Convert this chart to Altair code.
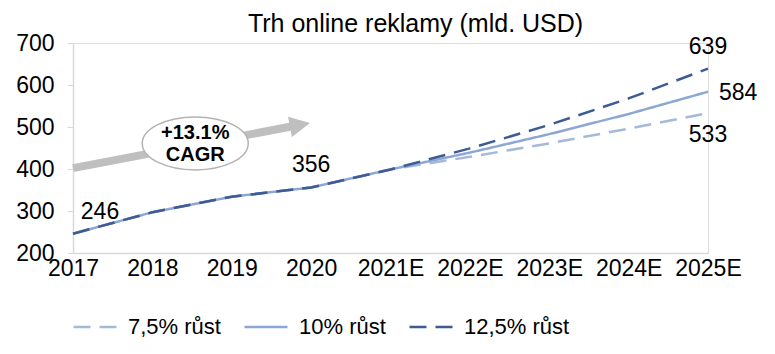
import altair as alt
import pandas as pd

# ---- data ----
years = [2017, 2018, 2019, 2020, 2021, 2022, 2023, 2024, 2025]
series_names = ["7,5% růst", "10% růst", "12,5% růst"]
growth_75 = [246, 297, 334, 356, 399, 429, 461, 496, 533]
growth_10 = [246, 297, 334, 356, 399, 439, 483, 531, 584]
growth_125 = [246, 297, 334, 356, 399, 449, 505, 568, 639]
series_colors = ["#a5b9da", "#8da7d3", "#3d5c93"]

label_years = [2017, 2020, 2025, 2025, 2025]
label_values = [246, 356, 639, 584, 533]
label_places = ["upright", "up", "up", "right", "down"]

cagr_lines = ["+13.1%", "CAGR"]
cagr_line_y = [486, 433]
cagr_center_x = 2018.54
cagr_center_y = 461
arrow_x = [2017, 2019.8]
arrow_y = [402, 503]
arrow_head = (2019.86, 505)

FONT = "Liberation Sans"

rows = []
for name, vals in zip(series_names, [growth_75, growth_10, growth_125]):
    for yr, v in zip(years, vals):
        rows.append({"year": yr, "value": v, "series": name})
lines_df = pd.DataFrame(rows)

labels_df = pd.DataFrame({"year": label_years, "value": label_values,
                          "place": label_places,
                          "text": [str(v) for v in label_values]})

x_scale = alt.Scale(domain=[2017, 2025], nice=False, zero=False)
y_scale = alt.Scale(domain=[200, 700], nice=False, zero=False)

x_axis = alt.Axis(values=years, format="d",
                  labelExpr="datum.value >= 2021 ? datum.label + 'E' : datum.label",
                  title=None, grid=False, ticks=False, domainColor="#d9d9d9",
                  domainWidth=1.5, labelFont=FONT, labelFontSize=23, labelColor="#000",
                  labelPadding=4, labelFlush=False, labelOverlap=False)
y_axis = alt.Axis(values=[200, 300, 400, 500, 600, 700], title=None, grid=False,
                  tickSize=6, tickColor="#d9d9d9", domainColor="#d9d9d9",
                  domainWidth=1.5, labelFont=FONT, labelFontSize=23, labelColor="#000",
                  labelPadding=13)

legend = alt.Legend(orient="none", legendX=-1, legendY=261, direction="horizontal",
                    title=None, symbolType="stroke", symbolSize=1849,
                    symbolStrokeWidth=3, labelFont=FONT, labelFontSize=22,
                    labelColor="#000", labelOffset=10, columnPadding=18, padding=0)

lines = alt.Chart(lines_df).mark_line().encode(
    x=alt.X("year:Q", scale=x_scale, axis=x_axis),
    y=alt.Y("value:Q", scale=y_scale, axis=y_axis),
    color=alt.Color("series:N", scale=alt.Scale(domain=series_names, range=series_colors),
                    legend=legend),
    strokeDash=alt.StrokeDash("series:N",
                              scale=alt.Scale(domain=series_names,
                                              range=[[17, 9], [1, 0], [17, 9]]),
                              legend=legend),
    strokeWidth=alt.StrokeWidth("series:N",
                                scale=alt.Scale(domain=series_names, range=[2.5, 2.5, 3]),
                                legend=None),
    order=alt.Order("year:Q"),
)

def label_layer(place, **kw):
    return alt.Chart(labels_df).transform_filter(
        alt.datum.place == place
    ).mark_text(font=FONT, fontSize=23, color="#000", baseline="middle", **kw).encode(
        x=alt.X("year:Q", scale=x_scale),
        y=alt.Y("value:Q", scale=y_scale),
        text="text:N",
    )

lbl_upright = label_layer("upright", dx=27, dy=-22)
lbl_up = label_layer("up", dy=-22)
lbl_right = label_layer("right", align="left", dx=11, dy=1)
lbl_down = label_layer("down", dy=22)

arrow_df = pd.DataFrame({"x": [arrow_x[0]], "y": [arrow_y[0]],
                         "x2": [arrow_x[1]], "y2": [arrow_y[1]]})
arrow = alt.Chart(arrow_df).mark_rule(color="#bfbfbf", strokeWidth=8).encode(
    x=alt.X("x:Q", scale=x_scale), y=alt.Y("y:Q", scale=y_scale),
    x2="x2:Q", y2="y2:Q")

head_df = pd.DataFrame({"x": [arrow_head[0]], "y": [arrow_head[1]]})
head = alt.Chart(head_df).mark_point(shape="M-1,-1L1,0L-1,1Z", filled=True,
                                     color="#bfbfbf", opacity=1, size=420,
                                     angle=349).encode(
    x=alt.X("x:Q", scale=x_scale), y=alt.Y("y:Q", scale=y_scale))

ell_df = pd.DataFrame({"x": [cagr_center_x], "y": [cagr_center_y]})
ellipse = alt.Chart(ell_df).mark_point(
    shape="M-1,0A1,0.5,0,1,0,1,0A1,0.5,0,1,0,-1,0Z",
    filled=True, fill="white", fillOpacity=1, stroke="#b3b3b3", strokeWidth=1.5,
    opacity=1, size=106 * 106).encode(
    x=alt.X("x:Q", scale=x_scale), y=alt.Y("y:Q", scale=y_scale))

cagr_df = pd.DataFrame({"x": [cagr_center_x] * 2, "y": cagr_line_y, "t": cagr_lines})
cagr_text = alt.Chart(cagr_df).mark_text(font=FONT, fontSize=20, fontWeight="bold",
                                         color="#000", baseline="middle").encode(
    x=alt.X("x:Q", scale=x_scale), y=alt.Y("y:Q", scale=y_scale), text="t:N")

chart = alt.layer(
    arrow, head, ellipse, cagr_text, lines, lbl_upright, lbl_up, lbl_right, lbl_down
).properties(
    width=635, height=210,
    title=alt.TitleParams("Trh online reklamy (mld. USD)", font=FONT, fontSize=25,
                          fontWeight="normal", color="#000", anchor="middle",
                          dx=25, offset=-5),
    autosize=alt.AutoSizeParams(type="none"),
    padding={"left": 73, "top": 43, "right": 67, "bottom": 101},
).configure_view(stroke=None).configure(background="white")

chart.save("out.html", embed_options={"renderer": "svg", "actions": False})
